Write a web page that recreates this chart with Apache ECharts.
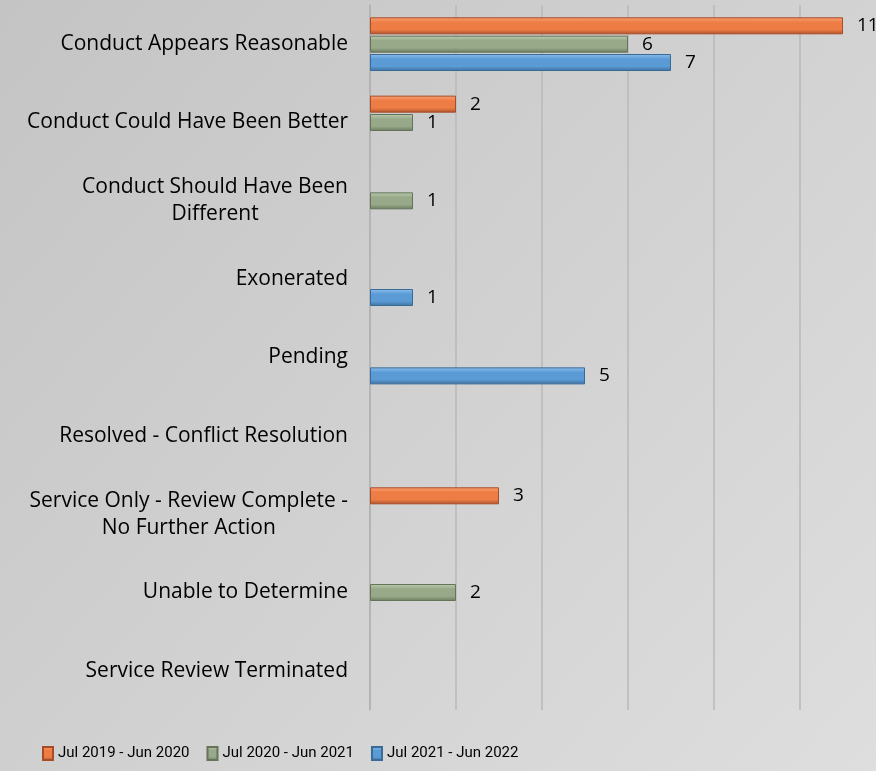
<!DOCTYPE html>
<html>
<head>
<meta charset="utf-8">
<script src="https://cdn.jsdelivr.net/npm/echarts@6/dist/echarts.min.js"></script>
<style>
  html, body { margin: 0; padding: 0; }
  #main { width: 876px; height: 771px; }
</style>
</head>
<body>
<div id="main"></div>
<script>
var categories = [
    'Conduct Appears Reasonable',
    'Conduct Could Have Been Better',
    'Conduct Should Have Been\nDifferent',
    'Exonerated',
    'Pending',
    'Resolved - Conflict Resolution',
    'Service Only - Review Complete -\nNo Further Action',
    'Unable to Determine',
    'Service Review Terminated'
];

var seriesNames = ['Jul 2019 - Jun 2020', 'Jul 2020 - Jun 2021', 'Jul 2021 - Jun 2022'];

var values2019 = [11, 2, null, null, null, null, 3, null, null];
var values2020 = [6, 1, 1, null, null, null, null, 2, null];
var values2021 = [7, null, null, 1, 5, null, null, null, null];

// 颜色：上亮、中、下暗 模拟斜面效果
var palette = [
    {top: '#fca074', mid: '#ed7d45', bot: '#b0512b', border: '#a54c28'},
    {top: '#bccbae', mid: '#98a989', bot: '#6b7a5f', border: '#66735b'},
    {top: '#8cc0ee', mid: '#5b9bd5', bot: '#3d6f9e', border: '#3a6a97'}
];

function barColor(p) {
    return new echarts.graphic.LinearGradient(0, 0, 0, 1, [
        {offset: 0, color: p.top},
        {offset: 0.3, color: p.mid},
        {offset: 0.72, color: p.mid},
        {offset: 1, color: p.bot}
    ]);
}

function makeSeries(name, data, p) {
    return {
        name: name,
        type: 'bar',
        data: data,
        barWidth: 17,
        barGap: '8%',
        itemStyle: {
            color: barColor(p),
            borderColor: p.border,
            borderWidth: 1
        },
        label: {
            show: true,
            position: 'right',
            distance: 14,
            color: '#000',
            fontSize: 19,
            fontFamily: 'Open Sans'
        }
    };
}

var chart = echarts.init(document.getElementById('main'));

var option = {
    backgroundColor: new echarts.graphic.LinearGradient(0, 0, 1, 1, [
        {offset: 0, color: '#c4c4c4'},
        {offset: 1, color: '#dedede'}
    ]),
    animation: false,
    grid: {
        left: 370,
        width: 516,
        top: 5,
        bottom: 61,
        outerBoundsMode: 'none'
    },
    legend: {
        bottom: 5,
        left: 37,
        itemWidth: 10,
        itemHeight: 13,
        itemGap: 17,
        icon: 'rect',
        textStyle: {
            color: '#000',
            fontSize: 15,
            fontFamily: 'Roboto'
        },
        data: seriesNames
    },
    xAxis: {
        type: 'value',
        min: 0,
        max: 12,
        interval: 2,
        axisLabel: {show: false},
        axisLine: {show: false},
        axisTick: {show: false},
        splitLine: {
            lineStyle: {color: '#b9b9b9', width: 1.5}
        }
    },
    yAxis: {
        type: 'category',
        inverse: true,
        data: categories,
        axisTick: {show: false},
        axisLine: {
            lineStyle: {color: '#b0b0b0', width: 1.5}
        },
        axisLabel: {
            margin: 22,
            color: '#000',
            fontSize: 21,
            fontFamily: 'Open Sans',
            lineHeight: 27,
            formatter: function (value) {
                return value.split('\n').map(function (s) {
                    return '{c|' + s + '}';
                }).join('\n');
            },
            rich: {
                c: {align: 'center', fontSize: 21, fontFamily: 'Open Sans', color: '#000', lineHeight: 27}
            }
        }
    },
    series: [
        makeSeries(seriesNames[0], values2019, palette[0]),
        makeSeries(seriesNames[1], values2020, palette[1]),
        makeSeries(seriesNames[2], values2021, palette[2])
    ]
};

chart.setOption(option);
</script>
</body>
</html>
